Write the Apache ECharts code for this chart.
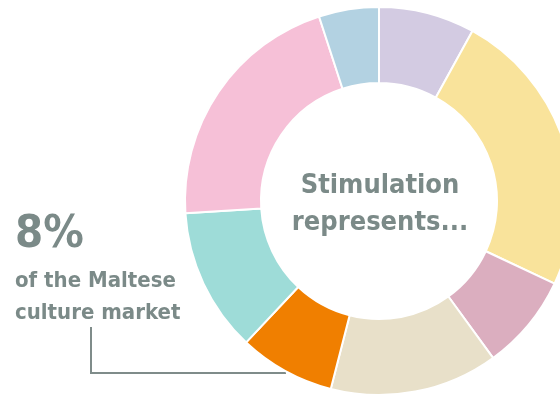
<!DOCTYPE html>
<html>
<head>
<meta charset="utf-8">
<script src="https://cdn.jsdelivr.net/npm/echarts@6/dist/echarts.min.js"></script>
<style>
  html, body { margin: 0; padding: 0; background: #ffffff; }
  #chart { width: 560px; height: 397px; }
</style>
</head>
<body>
<div id="chart"></div>
<script>
// Segments of the Maltese culture market, clockwise from the top
const categories = ['Segment A', 'Segment B', 'Segment C', 'Segment D', 'Stimulation', 'Segment F', 'Segment G', 'Segment H'];
const shares = [8, 24, 8, 14, 8, 12, 21, 5];
const colors = ['#d3cbe2', '#f9e39b', '#dbaebf', '#e8e0c9', '#f07f00', '#9edcd8', '#f6c0d7', '#b3d2e2'];

const headline = '8%';
const captionLines = ['of the Maltese', 'culture market'];
const centerLines = ['Stimulation', 'represents...'];

const textColor = '#7b8a88';
const fontFamily = '"DejaVu Sans Condensed", "Roboto", sans-serif';

const chart = echarts.init(document.getElementById('chart'), null, { renderer: 'canvas' });

chart.setOption({
  animation: false,
  backgroundColor: '#ffffff',
  series: [{
    type: 'pie',
    center: [379, 201],
    radius: [118, 194],
    startAngle: 90,
    clockwise: true,
    silent: true,
    label: { show: false },
    labelLine: { show: false },
    itemStyle: { borderColor: '#ffffff', borderWidth: 2 },
    data: categories.map((name, i) => ({ name, value: shares[i], itemStyle: { color: colors[i] } }))
  }],
  graphic: [
    {
      type: 'text',
      position: [380, 167],
      style: {
        text: centerLines.join('\n'),
        align: 'center',
        verticalAlign: 'top',
        font: 'bold 27px ' + fontFamily,
        lineHeight: 37,
        fill: textColor
      }
    },
    {
      type: 'text',
      position: [15, 213],
      style: {
        text: headline,
        font: 'bold 45px ' + fontFamily,
        fill: textColor
      }
    },
    {
      type: 'text',
      position: [15, 265],
      style: {
        text: captionLines.join('\n'),
        font: 'bold 22px ' + fontFamily,
        lineHeight: 32,
        fill: textColor
      }
    },
    {
      type: 'polyline',
      shape: { points: [[91, 327], [91, 373], [286, 373]] },
      style: { stroke: '#7f8c8a', lineWidth: 2, fill: null }
    }
  ]
});
</script>
</body>
</html>
